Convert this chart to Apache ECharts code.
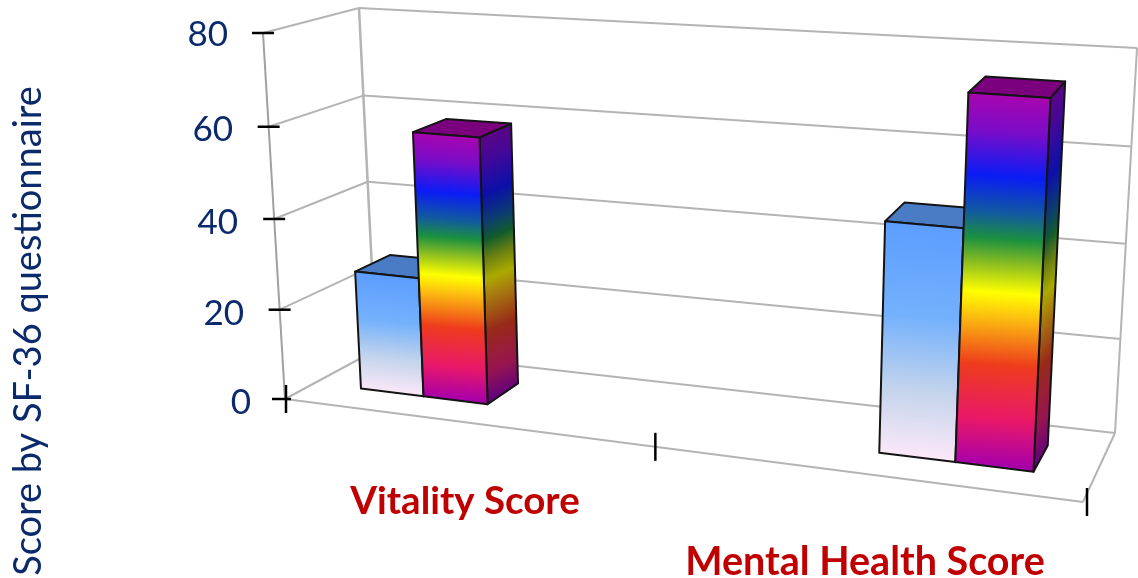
<!DOCTYPE html>
<html>
<head>
<meta charset="utf-8">
<style>html,body{margin:0;padding:0;background:#fff}#c{width:1138px;height:578px}</style>
<script src="https://cdn.jsdelivr.net/npm/echarts@6/dist/echarts.min.js"></script>
</head>
<body>
<div id="c"></div>
<script>
const categories = ['Vitality Score', 'Mental Health Score'];
const blueScores = [26.5, 48];
const rainbowScores = [58.5, 75];
const yTicks = [0, 20, 40, 60, 80];
const yAxisTitle = 'Score by SF-36 questionnaire';

// Perspective box of the 3D chart: floor and ceiling corners on the page
const box = {
  floor: { fl: [285, 399], fr: [1083, 502], bl: [376, 350], br: [1115, 433] },
  top: { fl: [263, 33], fr: [1104, 90], bl: [359, 8], br: [1137, 48] }
};
const lerp = (a, b, t) => [a[0] + (b[0] - a[0]) * t, a[1] + (b[1] - a[1]) * t];
const warp = (t, k) => k * t / (1 + (k - 1) * t);
function project(u, v, d) {
  const g = warp(u, 0.866), w = warp(v, 0.968);
  const f = lerp(lerp(box.floor.fl, box.floor.fr, g), lerp(box.floor.bl, box.floor.br, g), d);
  const t = lerp(lerp(box.top.fl, box.top.fr, g), lerp(box.top.bl, box.top.br, g), d);
  return lerp(f, t, w);
}
const BAR_W = 0.09, DEPTH_FRONT = 0.33, DEPTH_BACK = 0.72, BAND_SPREAD = 1.37;

const blueFront = [[0, '#5C9DFF'], [0.4, '#74B1FC'], [0.72, '#C4D4EC'], [1, '#FAE8F8']];
const blueSide = [[0, '#3A63A8'], [1, '#8A8AA0']];
const blueTop = '#4A7CC6';
const rainbowFront = [[0, '#A805AE'], [0.1, '#7A0CC8'], [0.22, '#0A1CF5'], [0.32, '#125AA0'], [0.39, '#1C9040'],
  [0.46, '#90C020'], [0.535, '#FFFF00'], [0.6, '#FCC010'], [0.73, '#EE3C1C'], [0.88, '#E8186A'], [1, '#A800A8']];
const rainbowSide = [[0, '#5A0585'], [0.1, '#40089A'], [0.22, '#0A10A8'], [0.32, '#0C3C70'], [0.39, '#125C2C'],
  [0.46, '#6A8010'], [0.535, '#ABAA00'], [0.6, '#A87C10'], [0.73, '#982A18'], [0.88, '#981450'], [1, '#5A0080']];
const rainbowTop = '#7A007E';

function face(pts, stops, solid) {
  let fill = solid;
  if (stops) {
    // gradient runs perpendicular to the top edge of the face, down to its base
    const ex = pts[1][0] - pts[0][0], ey = pts[1][1] - pts[0][1], len = Math.hypot(ex, ey);
    const nx = -ey / len, ny = ex / len;
    const dx = pts[3][0] - pts[0][0], dy = pts[3][1] - pts[0][1];
    const L = dx * nx + dy * ny;
    fill = {
      type: 'linear', global: true,
      x: pts[0][0], y: pts[0][1], x2: pts[0][0] + nx * L, y2: pts[0][1] + ny * L,
      colorStops: stops.map(s => ({ offset: s[0], color: s[1] }))
    };
  }
  return {
    type: 'polygon', shape: { points: pts },
    style: { fill, stroke: '#141414', lineWidth: 2, lineJoin: 'round' }
  };
}
function barRenderer(side, frontStops, sideStops, topFill) {
  return function (params, api) {
    const cs = params.coordSys;
    const p = api.coord([api.value(0), api.value(1)]);
    const u0 = (p[0] - cs.x) / cs.width;
    const c = 0.5 + (u0 - 0.5) * BAND_SPREAD;
    const v = (cs.y + cs.height - p[1]) / cs.height;
    const a = side < 0 ? c - BAR_W : c, b = side < 0 ? c : c + BAR_W;
    const P = project;
    return {
      type: 'group',
      children: [
        face([P(b, v, DEPTH_FRONT), P(b, v, DEPTH_BACK), P(b, 0, DEPTH_BACK), P(b, 0, DEPTH_FRONT)], sideStops),
        face([P(a, v, DEPTH_FRONT), P(b, v, DEPTH_FRONT), P(b, v, DEPTH_BACK), P(a, v, DEPTH_BACK)], null, topFill),
        face([P(a, v, DEPTH_FRONT), P(b, v, DEPTH_FRONT), P(b, 0, DEPTH_FRONT), P(a, 0, DEPTH_FRONT)], frontStops)
      ]
    };
  };
}
const gray = { stroke: '#B4B4B4', lineWidth: 2 };
const seg = (a, b, style) => ({ type: 'line', shape: { x1: a[0], y1: a[1], x2: b[0], y2: b[1] }, style });
function frameRenderer(params, api) {
  const cs = params.coordSys;
  const p = api.coord([0, api.value(0)]);
  const v = (cs.y + cs.height - p[1]) / cs.height;
  const kids = [
    seg(project(0, v, 0), project(0, v, 1), gray),
    seg(project(0, v, 1), project(1, v, 1), gray)
  ];
  if (params.dataIndex === 0) {
    kids.push(
      seg(project(0, 0, 0), project(1, 0, 0), gray),
      seg(project(1, 0, 0), project(1, 0, 1), gray),
      seg(project(0, 0, 0), project(0, 1, 0), { stroke: '#A0A0A0', lineWidth: 2 }),
      seg(project(0, 0, 1), project(0, 1, 1), { stroke: '#B4B4B4', lineWidth: 2.5 }),
      seg(project(1, 0, 1), project(1, 1, 1), gray)
    );
  }
  const tick = { stroke: '#000', lineWidth: 2.5 };
  const q = project(0, v, 0);
  kids.push(seg([q[0] - (v === 0 ? 13 : 11), q[1]], [q[0] + (v === 0 ? 6 : 11), q[1]], tick));
  if (params.dataIndex === 0) {
    [[0, 1], [0.5, 0], [1, 4]].forEach(([u, dx]) => {
      const r = project(u, 0, 0);
      kids.push(seg([r[0] + dx, r[1] - 14], [r[0] + dx, r[1] + 14], tick));
    });
  }
  return { type: 'group', children: kids };
}

const labelShift = { 0: [7, 0], 20: [12, 7], 40: [13, 13], 60: [11, 18], 80: [4, 23] };
const yRich = {};
yTicks.forEach(t => {
  yRich['t' + t] = {
    fontFamily: 'Lato', fontSize: 35, color: '#0B2A6B',
    padding: [labelShift[t][0], labelShift[t][1], 0, 0]
  };
});

const chart = echarts.init(document.getElementById('c'));
chart.setOption({
  animation: false,
  backgroundColor: '#fff',
  grid: { left: 265, top: 33, width: 800, height: 366, containLabel: false, outerBoundsMode: 'none' },
  xAxis: {
    type: 'category', data: categories,
    axisLine: { show: false }, axisTick: { show: false }, splitLine: { show: false },
    axisLabel: {
      interval: 0, margin: 83,
      formatter: (val, i) => `{c${i}|${val}}`,
      rich: {
        c0: { fontFamily: 'Lato', fontWeight: 'bold', fontSize: 38.5, color: '#C00000', padding: [0, 0, 0, 0] },
        c1: { fontFamily: 'Lato', fontWeight: 'bold', fontSize: 39.5, color: '#C00000', padding: [60, 0, 0, 0] }
      }
    }
  },
  yAxis: {
    type: 'value', min: 0, max: 80, interval: 20,
    name: yAxisTitle, nameLocation: 'middle', nameRotate: 90, nameGap: 217,
    nameTextStyle: { fontFamily: 'Lato', fontSize: 38, color: '#0B2A6B', padding: [0, 230, 0, 0] },
    axisLine: { show: false }, axisTick: { show: false }, splitLine: { show: false },
    axisLabel: { margin: 14, formatter: val => `{t${val}|${val}}`, rich: yRich }
  },
  series: [
    { type: 'custom', name: 'Frame', data: yTicks.map(t => [t]), encode: { y: 0 }, renderItem: frameRenderer, z: 1, silent: true },
    { type: 'custom', name: 'Blue', data: blueScores.map((s, i) => [i, s]), encode: { x: 0, y: 1 },
      renderItem: barRenderer(-1, blueFront, blueSide, blueTop), z: 2, silent: true },
    { type: 'custom', name: 'Rainbow', data: rainbowScores.map((s, i) => [i, s]), encode: { x: 0, y: 1 },
      renderItem: barRenderer(1, rainbowFront, rainbowSide, rainbowTop), z: 3, silent: true }
  ]
});
</script>
</body>
</html>
